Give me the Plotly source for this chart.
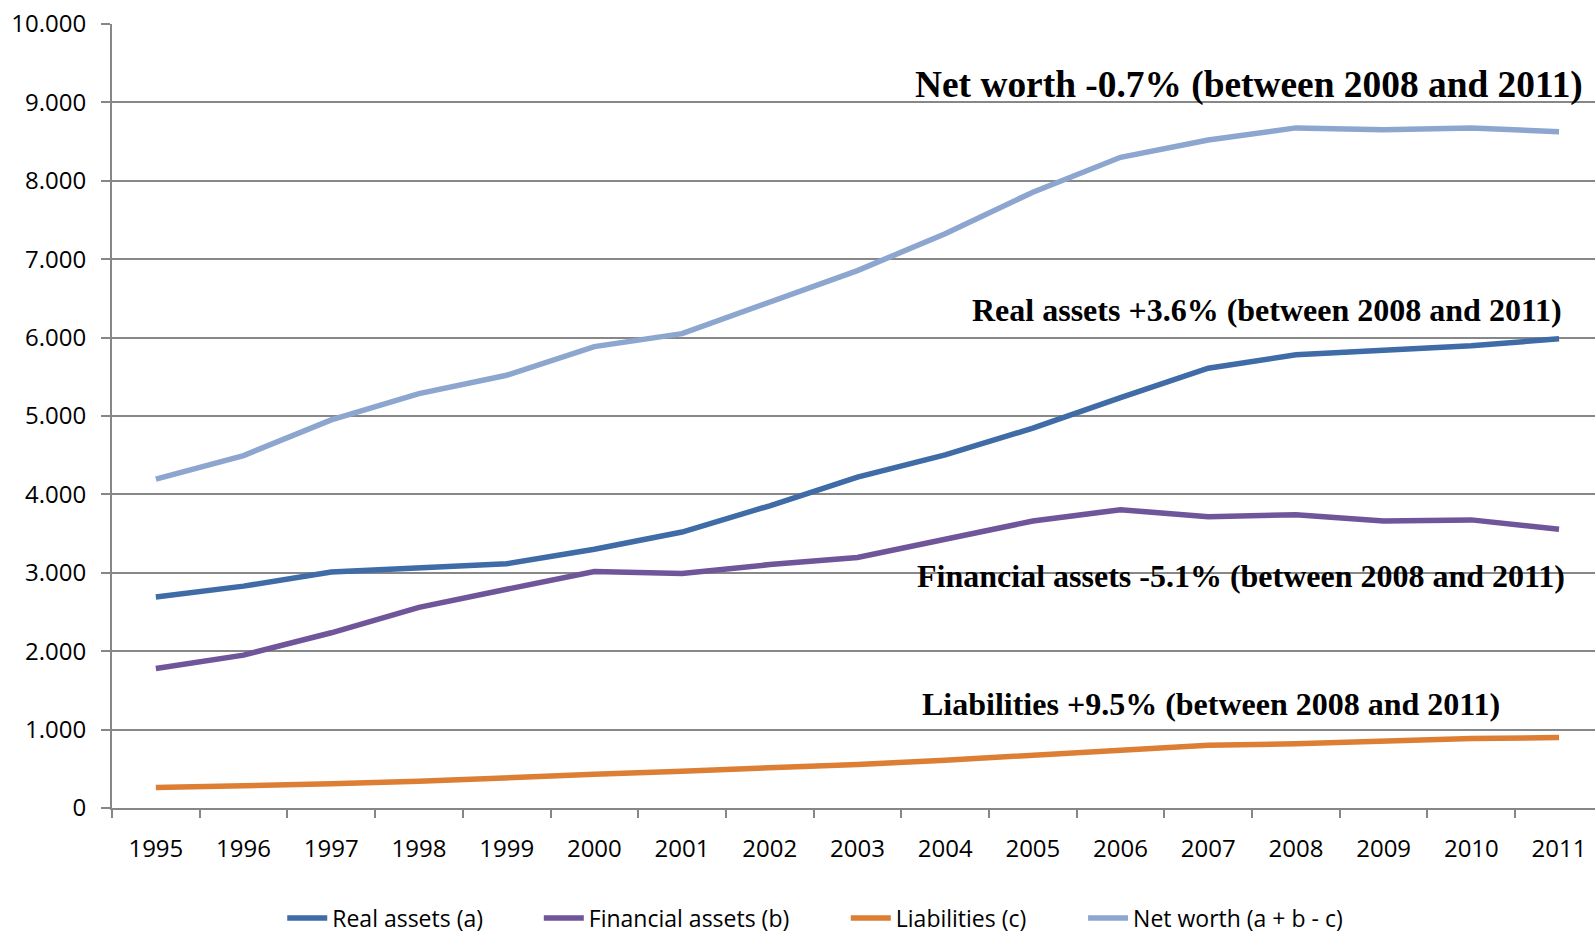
import plotly.graph_objects as go

years = [str(y) for y in range(1995, 2012)]

real_assets = [2690, 2830, 3010, 3065, 3115, 3300, 3520, 3855, 4220, 4505,
               4845, 5235, 5610, 5780, 5845, 5895, 5985]
financial_assets = [1780, 1950, 2235, 2560, 2790, 3015, 2990, 3105, 3195, 3430,
                    3660, 3805, 3715, 3740, 3660, 3675, 3555]
liabilities = [260, 280, 310, 340, 390, 430, 470, 510, 555, 610,
               670, 740, 800, 820, 855, 885, 900]
net_worth = [4195, 4495, 4950, 5285, 5520, 5885, 6050, 6455, 6855, 7325,
             7855, 8300, 8520, 8675, 8650, 8675, 8625]

series_names = ["Real assets (a)", "Financial assets (b)", "Liabilities (c)",
                "Net worth (a + b - c)"]
series_values = [real_assets, financial_assets, liabilities, net_worth]
series_colors = ["#3F6BA7", "#6F559A", "#DD7E35", "#8DA6CF"]

notes = [
    ("Net worth -0.7% (between 2008 and 2011)", 9216, 37.4),
    ("Real assets +3.6% (between 2008 and 2011)", 6352, 32),
    ("Financial assets -5.1% (between 2008 and 2011)", 2959, 32),
    ("Liabilities +9.5% (between 2008 and 2011)", 1327, 32),
]
note_right_edges = [0.9935, 0.9794, 0.9814, 0.9373]

# one legend box per series so each entry sits at its own spot in the row
legend_ids = ["legend", "legend2", "legend3", "legend4"]
legend_x = [0.1148, 0.2878, 0.4948, 0.6548]

GRID = "#878787"
TEXT_FONT = "Open Sans"

fig = go.Figure()
for name, vals, col, lid in zip(series_names, series_values, series_colors, legend_ids):
    fig.add_trace(go.Scatter(
        x=years, y=vals, name=name, mode="lines",
        line=dict(color=col, width=5.5), legend=lid,
    ))

for (text, yval, size), xr in zip(notes, note_right_edges):
    fig.add_annotation(
        text=f"<b>{text}</b>", x=xr, xref="paper", y=yval, yref="y",
        xanchor="right", yanchor="middle", showarrow=False,
        font=dict(family="Liberation Serif", size=size, color="black"),
    )

legend_style = dict(
    orientation="h", xanchor="left", y=-0.1405, yanchor="middle",
    font=dict(family=TEXT_FONT, size=23, color="black"),
    itemwidth=40, bgcolor="rgba(0,0,0,0)", borderwidth=0,
)

fig.update_layout(
    width=1595, height=937,
    margin=dict(l=112, r=0, t=24, b=129, autoexpand=False),
    paper_bgcolor="white", plot_bgcolor="white",
    separators=",.",
    font=dict(family=TEXT_FONT, size=22, color="black"),
    showlegend=True,
    xaxis=dict(
        type="category", range=[-0.5, 16.41],
        tickson="boundaries", ticks="outside", ticklen=8, tickwidth=2,
        tickcolor=GRID, showline=True, linecolor=GRID, linewidth=2,
        showgrid=False, ticklabelstandoff=18,
        tickfont=dict(family=TEXT_FONT, size=24, color="black"),
    ),
    yaxis=dict(
        range=[0, 10000], dtick=1000, tickformat=",d",
        ticks="outside", ticklen=9, tickwidth=2, tickcolor=GRID,
        showline=True, linecolor=GRID, linewidth=2,
        showgrid=True, gridcolor=GRID, gridwidth=2, zeroline=False,
        ticklabelstandoff=10,
        tickfont=dict(family=TEXT_FONT, size=24, color="black"),
    ),
)
for lid, lx in zip(legend_ids, legend_x):
    fig.update_layout({lid: dict(legend_style, x=lx)})

fig.write_html("out.html")
